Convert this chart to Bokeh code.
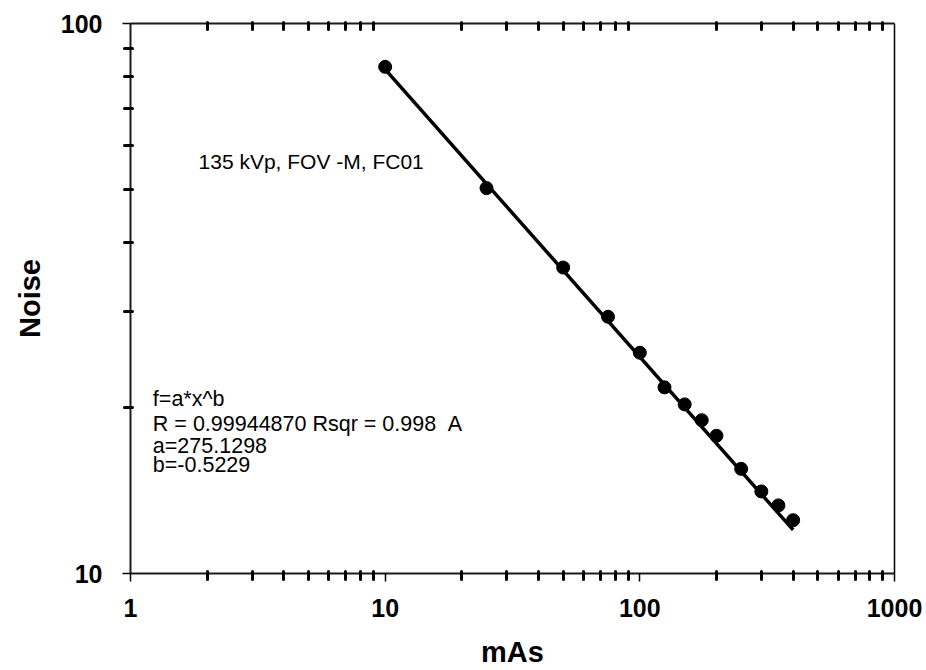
from bokeh.plotting import figure
from bokeh.models import LogAxis, FixedTicker, Label, ColumnDataSource, NumeralTickFormatter
from bokeh.embed import file_html
from bokeh.resources import INLINE

# ---- data ----
mas = [10, 25, 50, 75, 100, 125, 150, 175, 200, 250, 300, 350, 400]
noise = [83.4, 50.2, 36.0, 29.3, 25.2, 21.8, 20.3, 19.0, 17.8, 15.5, 14.1, 13.3, 12.5]
fit_mas = [10, 400]
fit_noise = [82.5, 12.0]

x_major = [1, 10, 100, 1000]
x_minor = [2, 3, 4, 5, 6, 7, 8, 9, 20, 30, 40, 50, 60, 70, 80, 90,
           200, 300, 400, 500, 600, 700, 800, 900]
y_major = [10, 100]
y_minor = [20, 30, 40, 50, 60, 70, 80, 90]

title_text = "135 kVp, FOV -M, FC01"
fit_lines = ["f=a*x^b", "R = 0.99944870 Rsqr = 0.998", "a=275.1298", "b=-0.5229"]
fit_extra = "A"

FONT = "Liberation Sans"

p = figure(width=926, height=670, x_axis_type="log", y_axis_type="log",
           x_range=(1, 1000), y_range=(10, 100),
           output_backend="svg", toolbar_location=None,
           min_border_left=130, min_border_right=32,
           min_border_top=23, min_border_bottom=97)
p.outline_line_color = None
p.grid.visible = False
p.background_fill_color = "white"
p.border_fill_color = "white"

xt = FixedTicker(ticks=x_major, minor_ticks=x_minor)
yt = FixedTicker(ticks=y_major, minor_ticks=y_minor)


def style_axis(ax, ticker, labels=True):
    ax.ticker = ticker
    ax.axis_line_color = "#1a1a1a"
    ax.axis_line_width = 2
    ax.major_tick_line_color = "black"
    ax.major_tick_line_width = 1.5
    ax.minor_tick_line_color = "black"
    ax.minor_tick_line_width = 3
    ax.minor_tick_line_cap = "round"
    ax.formatter = NumeralTickFormatter(format="0")
    if labels:
        ax.major_label_text_font = FONT
        ax.major_label_text_font_size = "25px"
        ax.major_label_text_font_style = "bold"
        ax.major_label_text_color = "black"
    else:
        ax.major_label_text_font_size = "1px"
        ax.major_label_text_color = None
        ax.major_label_standoff = 0


# bottom axis
bx = p.xaxis[0]
style_axis(bx, xt)
bx.major_tick_in = 0
bx.major_tick_out = 8
bx.minor_tick_in = 2
bx.minor_tick_out = 6
bx.major_label_standoff = 17
bx.axis_label = "mAs"
bx.axis_label_text_font = FONT
bx.axis_label_text_font_size = "29px"
bx.axis_label_text_font_style = "bold"
bx.axis_label_text_color = "black"
bx.axis_label_standoff = 16

# left axis
ly = p.yaxis[0]
style_axis(ly, yt)
ly.major_tick_in = 0
ly.major_tick_out = 8
ly.minor_tick_in = 2
ly.minor_tick_out = 6
ly.major_label_standoff = 20
ly.axis_label = "Noise"
ly.axis_label_text_font = FONT
ly.axis_label_text_font_size = "29px"
ly.axis_label_text_font_style = "bold"
ly.axis_label_text_color = "black"
ly.axis_label_standoff = 12

# top axis
top = LogAxis()
style_axis(top, xt, labels=False)
top.major_tick_in = 0
top.major_tick_out = 0
top.minor_tick_in = 6
top.minor_tick_out = 1
p.add_layout(top, "above")

# right axis (line only)
right = LogAxis()
style_axis(right, yt, labels=False)
right.axis_line_width = 1.5
right.axis_line_color = "black"
right.major_tick_line_color = None
right.minor_tick_line_color = None
p.add_layout(right, "right")

# fit line and data
p.line(fit_mas, fit_noise, line_color="black", line_width=3.5)
src = ColumnDataSource(dict(x=mas, y=noise))
p.scatter("x", "y", source=src, size=13, marker="circle",
          fill_color="black", line_color="black")

# annotations
p.add_layout(Label(x=1.85, y=56.1, text=title_text, text_font=FONT,
                   text_font_size="21px", text_color="black",
                   text_baseline="alphabetic"))
fit_y = [20.77, 18.71, 17.08, 15.72]
for txt, yy in zip(fit_lines, fit_y):
    p.add_layout(Label(x=1.224, y=yy, text=txt, text_font=FONT,
                       text_font_size="21.5px", text_color="black",
                       text_baseline="alphabetic"))
p.add_layout(Label(x=1.224, y=fit_y[1], x_offset=295, text=fit_extra,
                   text_font=FONT, text_font_size="21.5px", text_color="black",
                   text_baseline="alphabetic"))

open("out.html", "w").write(file_html(p, INLINE))
